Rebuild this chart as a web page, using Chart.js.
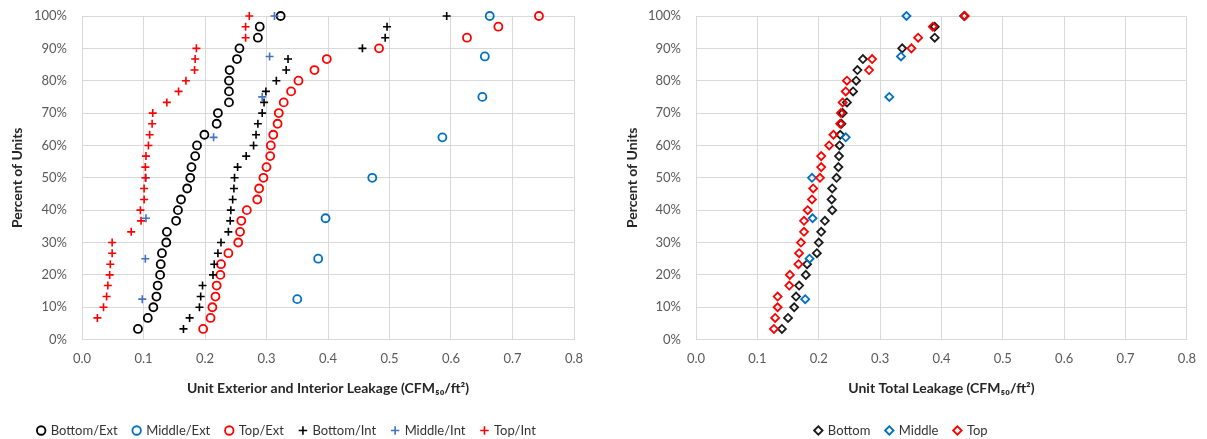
<!DOCTYPE html>
<html>
<head>
<meta charset="utf-8">
<script src="https://cdn.jsdelivr.net/npm/chart.js@4"></script>
<style>
    html, body { margin: 0; padding: 0; background: #fff; }
    #wrap { position: relative; width: 1207px; height: 439px; }
    #leftChart { position: absolute; left: 0; top: 0; }
    #rightChart { position: absolute; left: 615px; top: 0; }
</style>
</head>
<body>
<div id="wrap">
    <canvas id="leftChart" width="600" height="439"></canvas>
    <canvas id="rightChart" width="592" height="439"></canvas>
</div>
<script>
// Percentiles (y) for 30-unit and 8-unit groups
const pct30 = [3.3, 6.7, 10, 13.3, 16.7, 20, 23.3, 26.7, 30, 33.3, 36.7, 40, 43.3, 46.7, 50,
    53.3, 56.7, 60, 63.3, 66.7, 70, 73.3, 76.7, 80, 83.3, 86.7, 90, 93.3, 96.7, 100];
const pct29 = [6.7, 10, 13.3, 16.7, 20, 23.3, 26.7, 30, 33.3, 36.7, 40, 43.3, 46.7, 50,
    53.3, 56.7, 60, 63.3, 66.7, 70, 73.3, 76.7, 80, 83.3, 86.7, 90, 93.3, 96.7, 100];
const pct8 = [12.5, 25, 37.5, 50, 62.5, 75, 87.5, 100];

// Left chart - exterior / interior leakage
const bottomExt = [0.091, 0.107, 0.116, 0.121, 0.123, 0.127, 0.128, 0.130, 0.137, 0.138, 0.153, 0.156, 0.161, 0.171, 0.176,
    0.178, 0.184, 0.187, 0.199, 0.219, 0.221, 0.239, 0.239, 0.239, 0.240, 0.252, 0.256, 0.286, 0.289, 0.323];
const middleExt = [0.350, 0.384, 0.396, 0.472, 0.586, 0.651, 0.655, 0.663];
const topExt = [0.197, 0.209, 0.212, 0.217, 0.219, 0.225, 0.226, 0.238, 0.254, 0.257, 0.259, 0.268, 0.285, 0.288, 0.295,
    0.300, 0.306, 0.307, 0.311, 0.318, 0.320, 0.328, 0.340, 0.352, 0.378, 0.398, 0.483, 0.626, 0.677, 0.743];
const bottomInt = [0.165, 0.175, 0.191, 0.193, 0.196, 0.213, 0.215, 0.221, 0.226, 0.238, 0.241, 0.242, 0.245, 0.247, 0.248,
    0.253, 0.267, 0.279, 0.283, 0.286, 0.293, 0.296, 0.299, 0.316, 0.332, 0.335, 0.456, 0.493, 0.496, 0.593];
const middleInt = [0.098, 0.103, 0.104, 0.104, 0.214, 0.293, 0.305, 0.313];
const topInt = [0.025, 0.035, 0.040, 0.042, 0.045, 0.046, 0.049, 0.049, 0.080, 0.096, 0.095, 0.101, 0.101, 0.103,
    0.103, 0.104, 0.108, 0.110, 0.114, 0.115, 0.138, 0.157, 0.169, 0.183, 0.184, 0.186, 0.266, 0.266, 0.272];

// Right chart - total leakage
const bottomTot = [0.140, 0.150, 0.160, 0.163, 0.168, 0.179, 0.181, 0.197, 0.200, 0.204, 0.210, 0.222, 0.221, 0.222, 0.229,
    0.232, 0.233, 0.234, 0.235, 0.237, 0.239, 0.246, 0.256, 0.261, 0.263, 0.272, 0.336, 0.389, 0.389, 0.437];
const middleTot = [0.178, 0.185, 0.190, 0.189, 0.244, 0.315, 0.334, 0.343];
const topTot = [0.127, 0.129, 0.133, 0.133, 0.152, 0.153, 0.167, 0.168, 0.171, 0.176, 0.176, 0.182, 0.189, 0.191, 0.202,
    0.204, 0.204, 0.217, 0.224, 0.235, 0.236, 0.239, 0.244, 0.246, 0.282, 0.287, 0.351, 0.362, 0.386, 0.438];

const xTicks = [0, 0.1, 0.2, 0.3, 0.4, 0.5, 0.6, 0.7, 0.8];
const yTicks = [0, 10, 20, 30, 40, 50, 60, 70, 80, 90, 100];

const BLACK = '#000000';
const BLUE_O = '#0070C0';
const BLUE_P = '#4472C4';
const RED = '#FF0000';

Chart.defaults.font.family = 'Lato, "DejaVu Sans", sans-serif';

function toPoints(xs, ys) {
    return xs.map((x, i) => ({ x: x, y: ys[i] }));
}

function series(label, xs, ys, color, style, order) {
    const bw = style === 'cross' ? 1.6 : 1.8;
    return {
        label: label,
        data: toPoints(xs, ys),
        showLine: false,
        clip: false,
        pointStyle: style,
        pointRadius: 4,
        pointBorderWidth: bw,
        borderColor: color,
        backgroundColor: 'rgba(0,0,0,0)',
        pointBorderColor: color,
        pointBackgroundColor: 'rgba(0,0,0,0)',
        borderWidth: bw,
        order: order
    };
}

function makeOptions(xTitle, yWidth, rightPad) {
    return {
        responsive: false,
        animation: false,
        layout: { padding: { top: 16, right: rightPad, bottom: -8, left: 0 } },
        plugins: {
            tooltip: { enabled: false },
            legend: {
                position: 'bottom',
                labels: {
                    usePointStyle: true,
                    boxWidth: 6,
                    boxHeight: 6,
                    padding: 16,
                    color: '#333333',
                    font: { size: 13 },
                    // keep the series order, not the drawing order
                    sort: (a, b) => a.datasetIndex - b.datasetIndex
                }
            }
        },
        scales: {
            x: {
                type: 'linear',
                min: 0,
                max: 0.8,
                afterBuildTicks: s => { s.ticks = xTicks.map(v => ({ value: v })); },
                ticks: {
                    callback: v => v.toFixed(1),
                    color: '#595959',
                    font: { size: 13 },
                    padding: 11
                },
                grid: { color: '#D9D9D9', drawTicks: false },
                border: { color: '#D9D9D9' },
                title: {
                    display: true,
                    text: xTitle,
                    color: '#262626',
                    font: { size: 14, weight: 'bold' },
                    padding: { top: 3, bottom: 11 }
                }
            },
            y: {
                type: 'linear',
                min: 0,
                max: 100,
                afterBuildTicks: s => { s.ticks = yTicks.map(v => ({ value: v })); },
                afterFit: s => {
                    s.width = yWidth;
                    s.paddingTop = 0;
                    s.paddingBottom = 0;
                },
                ticks: {
                    callback: v => v + '%',
                    color: '#595959',
                    font: { size: 13 },
                    padding: 15
                },
                grid: { color: '#D9D9D9', drawTicks: false },
                border: { color: '#D9D9D9' },
                title: {
                    display: true,
                    text: 'Percent of Units',
                    color: '#262626',
                    font: { size: 14, weight: 'bold' },
                    padding: { top: 9, bottom: 0 }
                }
            }
        }
    };
}

// Later series drawn on top, as in the original
new Chart(document.getElementById('leftChart'), {
    type: 'scatter',
    data: {
        datasets: [
            series('Bottom/Ext', bottomExt, pct30, BLACK, 'circle', 6),
            series('Middle/Ext', middleExt, pct8, BLUE_O, 'circle', 5),
            series('Top/Ext', topExt, pct30, RED, 'circle', 4),
            series('Bottom/Int', bottomInt, pct30, BLACK, 'cross', 3),
            series('Middle/Int', middleInt, pct8, BLUE_P, 'cross', 2),
            series('Top/Int', topInt, pct29, RED, 'cross', 1)
        ]
    },
    options: makeOptions('Unit Exterior and Interior Leakage (CFM\u2085\u2080/ft\u00B2)', 82, 26)
});

new Chart(document.getElementById('rightChart'), {
    type: 'scatter',
    data: {
        datasets: [
            series('Bottom', bottomTot, pct30, '#1A1A1A', 'rectRot', 3),
            series('Middle', middleTot, pct8, BLUE_O, 'rectRot', 2),
            series('Top', topTot, pct30, RED, 'rectRot', 1)
        ]
    },
    options: makeOptions('Unit Total Leakage (CFM\u2085\u2080/ft\u00B2)', 81, 19)
});
</script>
</body>
</html>
